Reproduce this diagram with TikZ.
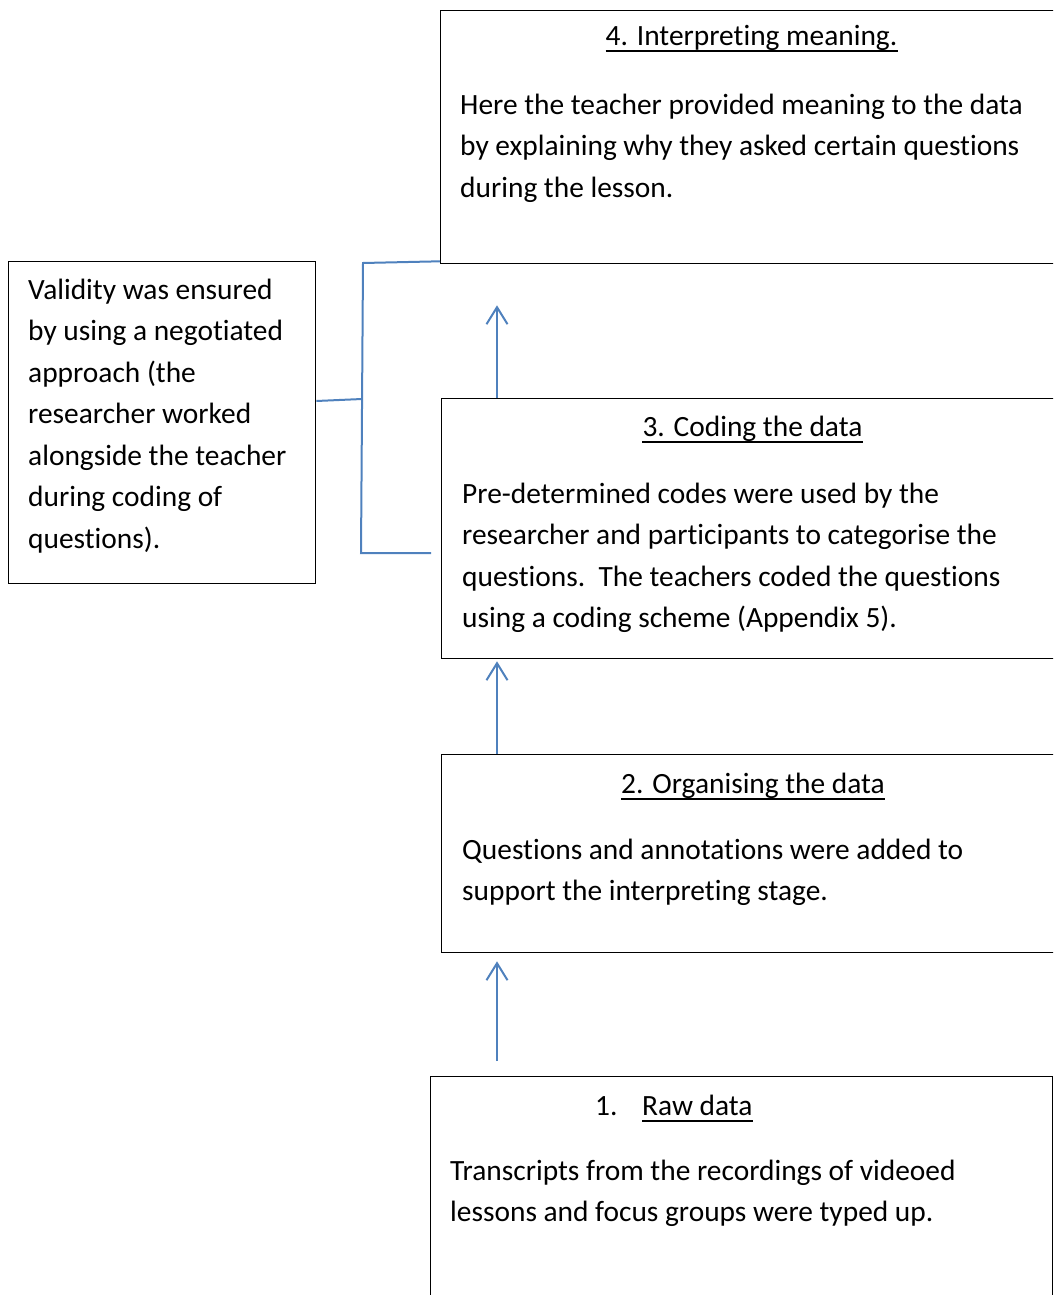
\documentclass[tikz,border=0pt]{standalone}
\usepackage{fontspec}
\setmainfont{Carlito}[Ligatures=NoCommon]
\usetikzlibrary{arrows.meta}
\definecolor{linkblue}{RGB}{79,129,189}
\tikzset{
  box/.style={draw=black, line width=1.3pt, rectangle, inner sep=0pt, anchor=north west},
  bodytext/.style={anchor=north west, inner sep=0pt, align=left, font=\fontsize{29.4}{41.5}\selectfont},
  titletext/.style={inner sep=0pt, font=\fontsize{29.4}{41.5}\selectfont},
  ul/.style={line width=2pt, black},
  link/.style={draw=linkblue, line width=2pt},
  arr/.style={link, -{Straight Barb[length=17pt,width=21pt]}},
}
\begin{document}
\begin{tikzpicture}[x=1pt,y=-1pt]
\useasboundingbox (0,0) rectangle (1053,1295);
\clip (0,0) rectangle (1053,1295);
% boxes
\node[box, minimum width=640pt, minimum height=253pt] (b4) at (440,10) {};
\node[box, minimum width=640pt, minimum height=260pt] (b3) at (441,398) {};
\node[box, minimum width=640pt, minimum height=198pt] (b2) at (441,754) {};
\node[box, minimum width=622pt, minimum height=260pt] (b1) at (430,1076) {};
\node[box, minimum width=307pt, minimum height=322pt] (vb) at (8,261) {};
% box 4
\node[titletext, anchor=base] (t4) at (751.5,46) {4. Interpreting meaning.};
\draw[ul] ([yshift=-5.5pt]t4.base west) -- ([yshift=-5.5pt]t4.base east);
\node[bodytext] (x4) at (460,114-29.05) {\strut Here the teacher provided meaning to the data\\
\strut by explaining why they asked certain questions\\
\strut during the lesson.};
% box 3
\node[titletext, anchor=base] (t3) at (752.5,436) {3. Coding the data};
\draw[ul] ([yshift=-5.5pt]t3.base west) -- ([yshift=-5.5pt]t3.base east);
\node[bodytext] (x3) at (462,503-29.05) {\strut Pre-determined codes were used by the\\
\strut researcher and participants to categorise the\\
\strut questions.\ \ The teachers coded the questions\\
\strut using a coding scheme (Appendix 5).};
% box 2
\node[titletext, anchor=base] (t2) at (753,793) {2. Organising the data};
\draw[ul] ([yshift=-5.5pt]t2.base west) -- ([yshift=-5.5pt]t2.base east);
\node[bodytext] (x2) at (462,859-29.05) {\strut Questions and annotations were added to\\
\strut support the interpreting stage.};
% box 1
\node[titletext, anchor=base west] (t1n) at (595,1115) {1.};
\node[titletext, anchor=base west] (t1) at (642,1115) {Raw data};
\draw[ul] ([yshift=-5.5pt]t1.base west) -- ([yshift=-5.5pt]t1.base east);
\node[bodytext] (x1) at (450,1180-29.05) {\strut Transcripts from the recordings of videoed\\
\strut lessons and focus groups were typed up.};
% validity box
\node[bodytext] (xv) at (28,299-29.05) {\strut Validity was ensured\\
\strut by using a negotiated\\
\strut approach (the\\
\strut researcher worked\\
\strut alongside the teacher\\
\strut during coding of\\
\strut questions).};
% arrows
\coordinate (ax) at (497,0);
\coordinate (a1) at (497,1061);
\draw[arr] (a1) -- ([yshift=-8pt]b2.south -| ax);
\draw[arr] (b2.north -| ax) -- ([yshift=-2pt]b3.south -| ax);
\draw[arr] (b3.north -| ax) -- ([yshift=-41pt]b4.south -| ax);
% bracket
\coordinate (bt) at (363,263);
\coordinate (bb) at (361,553);
\coordinate (bm) at (362,399);
\coordinate (bend) at (431,553);
\draw[link] ([yshift=3pt]b4.south west) -- (bt) -- (bb) -- (bend);
\draw[link] (vb.east |- 0,401) -- (bm);
\end{tikzpicture}
\end{document}
